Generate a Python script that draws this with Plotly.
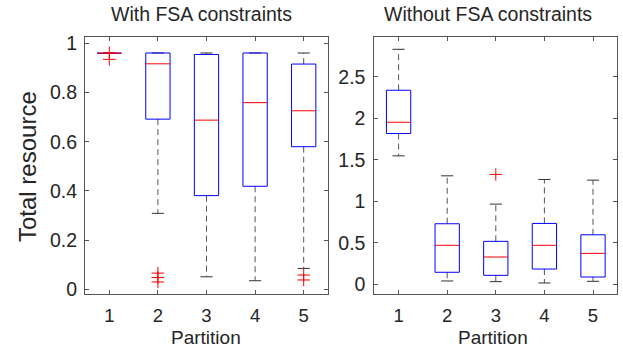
import plotly.graph_objects as go

partitions = [1, 2, 3, 4, 5]

# With FSA constraints
left_q1 = [0.960, 0.692, 0.381, 0.419, 0.580]
left_med = [0.960, 0.917, 0.688, 0.759, 0.726]
left_q3 = [0.960, 0.961, 0.955, 0.961, 0.916]
left_lo = [0.960, 0.309, 0.051, 0.035, 0.085]
left_hi = [0.960, 0.961, 0.961, 0.961, 0.961]
left_out_x = [1, 1, 2, 2, 2, 5, 5]
left_out_y = [0.962, 0.935, 0.066, 0.048, 0.030, 0.058, 0.038]

# Without FSA constraints
right_q1 = [1.818, 0.145, 0.108, 0.184, 0.088]
right_med = [1.954, 0.470, 0.329, 0.470, 0.373]
right_q3 = [2.340, 0.730, 0.518, 0.734, 0.597]
right_lo = [1.549, 0.040, 0.032, 0.016, 0.036]
right_hi = [2.834, 1.308, 0.967, 1.264, 1.256]
right_out_x = [3]
right_out_y = [1.325]

left_yticks = [0, 0.2, 0.4, 0.6, 0.8, 1]
left_yticklabels = ["0", "0.2", "0.4", "0.6", "0.8", "1"]
right_yticks = [0, 0.5, 1, 1.5, 2, 2.5]
right_yticklabels = ["0", "0.5", "1", "1.5", "2", "2.5"]

BW = 0.25   # half box width
CW = 0.125  # half cap width
FONT = "Liberation Sans, Arial, sans-serif"
TXT = "#262626"

fig = go.Figure()


def add_boxes(q1, med, q3, lo, hi, ox, oy, xa, ya):
    wx, wy, cx, cy, bx, by, mx, my = [], [], [], [], [], [], [], []
    for p, a, m, b, l, h in zip(partitions, q1, med, q3, lo, hi):
        wx += [p, p, None, p, p, None]
        wy += [b, h, None, a, l, None]
        cx += [p - CW, p + CW, None, p - CW, p + CW, None]
        cy += [h, h, None, l, l, None]
        bx += [p - BW, p + BW, p + BW, p - BW, p - BW, None]
        by += [a, a, b, b, a, None]
        mx += [p - BW, p + BW, None]
        my += [m, m, None]
    common = dict(xaxis=xa, yaxis=ya, mode="lines", showlegend=False, hoverinfo="skip")
    fig.add_trace(go.Scatter(x=wx, y=wy, line=dict(color="#555555", width=1, dash="6px,4px"), **common))
    fig.add_trace(go.Scatter(x=cx, y=cy, line=dict(color="#333333", width=1), **common))
    fig.add_trace(go.Scatter(x=bx, y=by, line=dict(color="#0000ff", width=1), **common))
    fig.add_trace(go.Scatter(x=mx, y=my, line=dict(color="#ff0000", width=1), **common))
    fig.add_trace(go.Scatter(x=ox, y=oy, xaxis=xa, yaxis=ya, mode="markers", showlegend=False,
                             marker=dict(symbol="cross-thin-open", size=9, color="#ff0000",
                                         line=dict(color="#ff0000", width=1))))


add_boxes(left_q1, left_med, left_q3, left_lo, left_hi, left_out_x, left_out_y, "x", "y")
add_boxes(right_q1, right_med, right_q3, right_lo, right_hi, right_out_x, right_out_y, "x2", "y2")

ax_common = dict(showline=True, linecolor="#555555", linewidth=1, mirror="ticks",
                 ticks="inside", ticklen=4, tickcolor="#555555", showgrid=False, zeroline=False,
                 automargin=False)
yfont = dict(family=FONT, size=19.5, color=TXT)
xfont = dict(family=FONT, size=18.5, color=TXT)

W, H = 623, 348


def ann(text, x, y, size, angle=0):
    return dict(text=text, x=x / W, y=1 - y / H, xref="paper", yref="paper",
                xanchor="center", yanchor="middle", showarrow=False, textangle=angle,
                font=dict(size=size, family=FONT, color=TXT))


fig.update_layout(
    width=W, height=H,
    margin=dict(l=0, r=0, t=0, b=0),
    paper_bgcolor="white", plot_bgcolor="white",
    font=dict(family=FONT, color=TXT),
    xaxis=dict(domain=[85 / W, 328 / W], range=[0.5, 5.5], tickvals=partitions,
               ticktext=[str(p) for p in partitions], anchor="y", ticklabelstandoff=5,
               tickfont=xfont, **ax_common),
    yaxis=dict(domain=[1 - 294 / H, 1 - 37 / H], range=[-0.019, 1.026],
               tickvals=left_yticks, ticktext=left_yticklabels, anchor="x", ticklabelstandoff=3,
               tickfont=yfont, **ax_common),
    xaxis2=dict(domain=[374.3 / W, 617.3 / W], range=[0.5, 5.5], tickvals=partitions,
                ticktext=[str(p) for p in partitions], anchor="y2", ticklabelstandoff=5,
                tickfont=xfont, **ax_common),
    yaxis2=dict(domain=[1 - 294 / H, 1 - 37 / H], range=[-0.117, 2.982],
                tickvals=right_yticks, ticktext=right_yticklabels, anchor="x2", ticklabelstandoff=4,
                tickfont=yfont, **ax_common),
    annotations=[
        ann("With FSA constraints", 201, 14, 19.5),
        ann("Without FSA constraints", 488, 14, 19.5),
        ann("Partition", 206, 337, 19),
        ann("Partition", 493, 337, 19),
        ann("Total resource", 28, 167, 24, -90),
    ],
)

fig.write_html("out.html", config={"displayModeBar": False},
               post_script="document.body.style.margin='0px';")
